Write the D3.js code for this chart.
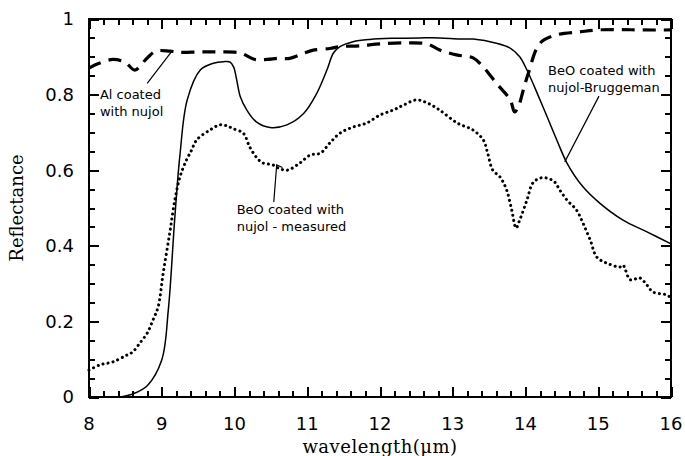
<!DOCTYPE html>
<html><head><meta charset="utf-8">
<script src="https://cdn.jsdelivr.net/npm/d3@7"></script>
<style>body{margin:0;background:#fff}svg{display:block}</style>
</head><body>
<svg id="c" width="685" height="456"></svg>
<script>
const bruggemanX = [8.43,8.6,8.8,9.0,9.09,9.18,9.25,9.35,9.53,9.71,9.85,9.94,9.99,10.03,10.08,10.17,10.3,10.49,10.72,10.95,11.13,11.27,11.36,11.45,11.63,11.86,12.2,12.55,12.82,13.1,13.28,13.6,13.79,13.92,14.02,14.16,14.3,14.43,14.57,14.79,15.02,15.34,15.67,16.0];
const bruggemanY = [0.0,0.008,0.03,0.098,0.23,0.476,0.64,0.786,0.865,0.883,0.887,0.886,0.872,0.839,0.794,0.759,0.728,0.713,0.72,0.75,0.803,0.865,0.91,0.927,0.94,0.946,0.949,0.95,0.95,0.947,0.947,0.936,0.923,0.9,0.865,0.804,0.74,0.68,0.619,0.556,0.513,0.468,0.437,0.405];
const alX = [8.0,8.13,8.33,8.5,8.63,8.8,8.92,9.11,9.25,9.53,9.8,10.08,10.28,10.45,10.6,10.76,10.95,11.07,11.31,11.45,11.72,12.0,12.37,12.65,12.82,13.05,13.28,13.42,13.6,13.79,13.85,13.9,13.97,14.04,14.2,14.43,14.75,14.98,15.3,15.6,16.0];
const alY = [0.87,0.882,0.893,0.885,0.865,0.897,0.915,0.915,0.912,0.913,0.913,0.91,0.893,0.893,0.896,0.896,0.909,0.917,0.922,0.927,0.929,0.934,0.937,0.934,0.918,0.905,0.897,0.873,0.83,0.786,0.754,0.767,0.812,0.857,0.936,0.958,0.966,0.971,0.972,0.971,0.971];
const measuredX = [8.0,8.15,8.33,8.52,8.6,8.7,8.8,8.88,8.95,9.02,9.11,9.18,9.25,9.34,9.41,9.48,9.66,9.8,9.9,9.98,10.12,10.21,10.31,10.39,10.53,10.6,10.72,10.9,11.04,11.18,11.31,11.45,11.63,11.82,12.0,12.18,12.32,12.5,12.65,12.82,13.06,13.28,13.42,13.48,13.55,13.65,13.74,13.81,13.87,13.92,14.02,14.1,14.2,14.3,14.4,14.47,14.57,14.7,14.79,14.89,14.98,15.12,15.3,15.34,15.44,15.57,15.67,15.75,15.94,16.0];
const measuredY = [0.071,0.085,0.093,0.111,0.119,0.143,0.169,0.204,0.238,0.328,0.434,0.521,0.582,0.627,0.653,0.68,0.706,0.72,0.717,0.71,0.698,0.661,0.632,0.619,0.614,0.606,0.6,0.619,0.64,0.645,0.672,0.698,0.714,0.725,0.746,0.759,0.772,0.786,0.778,0.759,0.725,0.706,0.68,0.645,0.6,0.582,0.548,0.495,0.447,0.468,0.521,0.566,0.579,0.579,0.569,0.548,0.521,0.495,0.46,0.415,0.37,0.354,0.344,0.349,0.31,0.315,0.296,0.278,0.27,0.262];
const xTickLabels = [8,9,10,11,12,13,14,15,16];
const yTickLabels = [0,0.2,0.4,0.6,0.8,1];

const svg = d3.select("#c");
const x = d3.scaleLinear().domain([8,16]).range([89,671]);
const y = d3.scaleLinear().domain([0,1]).range([397,19]);
const tickFont = "'DejaVu Sans', Verdana, sans-serif";
const serif = "'DejaVu Serif', serif";

const minorX = d3.range(0,41).map(i=>8+i*0.2);
const minorY = d3.range(0,21).map(i=>i*0.05);
const isMajorX = v => Math.abs(v-Math.round(v))<1e-6;
const isMajorY = v => Math.abs(v*5-Math.round(v*5))<1e-6;

svg.append("rect").attr("x",x(8)).attr("y",y(1)).attr("width",x(16)-x(8)).attr("height",y(0)-y(1))
  .attr("fill","none").attr("stroke","#000").attr("stroke-width",2);

// inward ticks on all four sides
function tickAxis(axis, tr, vals, size){
  svg.append("g").attr("transform",tr)
    .call(axis.tickValues(vals).tickSize(size).tickFormat(""))
    .call(g=>g.select(".domain").remove())
    .call(g=>g.selectAll(".tick line").attr("stroke","#000").attr("stroke-width",2).attr("shape-rendering","crispEdges"));
}
const majX = minorX.filter(isMajorX), minX = minorX.filter(v=>!isMajorX(v));
const majY = minorY.filter(isMajorY), minY = minorY.filter(v=>!isMajorY(v));
tickAxis(d3.axisBottom(x), `translate(0,${y(0)})`, majX, -10);
tickAxis(d3.axisBottom(x), `translate(0,${y(0)})`, minX, -6);
tickAxis(d3.axisTop(x), `translate(0,${y(1)})`, majX, -10);
tickAxis(d3.axisTop(x), `translate(0,${y(1)})`, minX, -6);
tickAxis(d3.axisLeft(y), `translate(${x(8)},0)`, majY, -10);
tickAxis(d3.axisLeft(y), `translate(${x(8)},0)`, minY, -6);
tickAxis(d3.axisRight(y), `translate(${x(16)},0)`, majY, -10);
tickAxis(d3.axisRight(y), `translate(${x(16)},0)`, minY, -6);

svg.append("g").selectAll("text").data(xTickLabels).join("text")
  .attr("x",d=>x(d)).attr("y",y(0)+33).attr("text-anchor","middle")
  .attr("font-family",tickFont).attr("font-size",18).text(d=>d);
svg.append("g").selectAll("text").data(yTickLabels).join("text")
  .attr("x",x(8)-15).attr("y",d=>y(d)).attr("dy","0.36em").attr("text-anchor","end")
  .attr("font-family",tickFont).attr("font-size",18)
  .text(d=>d===0||d===1?d3.format("d")(d):d3.format(".1f")(d));

const line = d3.line().x(d=>x(d[0])).y(d=>y(d[1])).curve(d3.curveCatmullRom.alpha(0.5));
svg.append("path").datum(d3.zip(bruggemanX,bruggemanY)).attr("d",line)
  .attr("fill","none").attr("stroke","#000").attr("stroke-width",1.5);
svg.append("path").datum(d3.zip(alX,alY)).attr("d",line)
  .attr("fill","none").attr("stroke","#000").attr("stroke-width",3.2).attr("stroke-dasharray","13,8");
svg.append("path").datum(d3.zip(measuredX,measuredY)).attr("d",line)
  .attr("fill","none").attr("stroke","#000").attr("stroke-width",3).attr("stroke-dasharray","0.1,5").attr("stroke-linecap","round");

svg.append("text").attr("x",(x(8)+x(16))/2).attr("y",453).attr("text-anchor","middle")
  .attr("font-family",serif).attr("font-size",18).attr("letter-spacing","0.5").text("wavelength(μm)");
svg.append("text").attr("transform",`translate(23,${(y(0)+y(1))/2}) rotate(-90)`).attr("text-anchor","middle")
  .attr("font-family",serif).attr("font-size",18).text("Reflectance");

const annFont = "'DejaVu Sans', Verdana, sans-serif";
function label(lx, ly, lines){
  const t = svg.append("text").attr("font-family",annFont).attr("font-size",13).attr("fill","#000");
  lines.forEach((s,i)=>t.append("tspan").attr("x",x(lx)).attr("y",y(ly)+i*17).text(s));
}
function leader(pts){
  svg.append("path").attr("d",d3.line().x(d=>x(d[0])).y(d=>y(d[1]))(pts))
    .attr("fill","none").attr("stroke","#000").attr("stroke-width",1.2);
}
label(8.15,0.788,["Al coated","with nujol"]);
leader([[8.8,0.83],[9.14,0.915]]);
label(14.31,0.852,["BeO coated with","nujol-Bruggeman"]);
leader([[15.01,0.796],[14.54,0.622]]);
label(10.03,0.484,["BeO coated with","nujol - measured"]);
leader([[10.54,0.516],[10.58,0.614],[10.66,0.607]]);
</script>
</body></html>
